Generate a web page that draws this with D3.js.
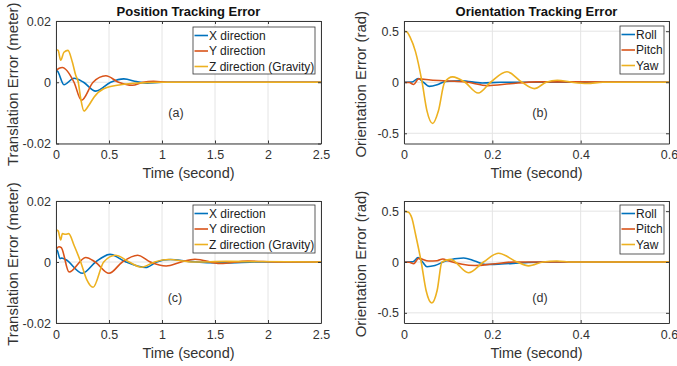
<!DOCTYPE html>
<html><head><meta charset="utf-8">
<script src="https://cdn.jsdelivr.net/npm/d3@7"></script>
<style>
html,body{margin:0;padding:0;background:#fff;}
svg text{font-family:"Liberation Sans",Arial,Helvetica,sans-serif;}
</style></head>
<body><svg id="chart" width="677" height="366"></svg>
<script>
// ---------- DATA ----------
const colors = ["#0072BD", "#D95319", "#EDB120"];
const posNames = ["X direction", "Y direction", "Z direction (Gravity)"];
const oriNames = ["Roll", "Pitch", "Yaw"];
const posTicksX = [0, 0.5, 1, 1.5, 2, 2.5];
const posTicksY = [-0.02, 0, 0.02];
const oriTicksX = [0, 0.2, 0.4, 0.6];
const oriTicksY = [-0.5, 0, 0.5];

// (a) position, first run
const aXt = [0, 0.015, 0.075, 0.17, 0.26, 0.374, 0.516, 0.64, 0.76, 0.86, 1.0, 1.2, 2.5];
const aXv = [0.0040, 0.0036, -0.0008, 0.0013, 0, -0.0029, 0, 0.0011, 0.0002, -0.0003, 0, 0, 0];
const aYt = [0, 0.03, 0.06, 0.17, 0.24, 0.35, 0.47, 0.59, 0.72, 0.82, 0.92, 1.05, 1.3, 2.5];
const aYv = [0.0038, 0.0046, 0.0048, 0, -0.0059, 0, 0.0021, 0, -0.001, 0, 0.0003, 0, 0, 0];
const aZt = [0, 0.02, 0.044, 0.075, 0.113, 0.154, 0.186, 0.21, 0.233, 0.264, 0.31, 0.36, 0.45, 0.61, 0.8, 1.0, 2.5];
const aZv = [0.0107, 0.0104, 0.0072, 0.0098, 0.0104, 0.0066, 0.0023, 0, -0.0053, -0.0094, -0.0075, -0.0048, -0.0021, -0.0008, -0.0002, 0, 0];

// (b) orientation, first run
const bRollT = [0, 0.018, 0.032, 0.044, 0.057, 0.075, 0.094, 0.13, 0.177, 0.22, 0.6];
const bRollV = [0, 0.002, 0.037, 0, -0.04, -0.025, 0.008, 0.015, -0.007, 0, 0];
const bPitchT = [0, 0.012, 0.022, 0.033, 0.06, 0.1, 0.14, 0.19, 0.24, 0.3, 0.6];
const bPitchV = [0, -0.003, -0.022, 0.033, 0.022, 0.012, 0.003, -0.033, -0.015, 0.004, 0];
const bYawT = [0, 0.006, 0.014, 0.026, 0.041, 0.052, 0.065, 0.078, 0.092, 0.11, 0.138, 0.168, 0.196, 0.233, 0.267, 0.295, 0.322, 0.347, 0.38, 0.415, 0.45, 0.6];
const bYawV = [0.5, 0.495, 0.44, 0.3, 0, -0.28, -0.404, -0.28, 0, 0.053, 0, -0.106, 0, 0.103, 0, -0.062, 0, 0.02, 0, -0.012, 0, 0];

// (c) position, second run
const cXt = [0, 0.012, 0.038, 0.05, 0.09, 0.25, 0.374, 0.51, 0.66, 0.846, 0.95, 1.08, 1.25, 1.6, 1.9, 2.5];
const cXv = [0.0041, 0.0038, 0.0011, 0.0013, 0.0008, -0.0037, 0, 0.0025, 0, -0.0018, 0, 0.0008, 0.0002, -0.0003, 0, 0];
const cYt = [0, 0.028, 0.05, 0.123, 0.28, 0.37, 0.5, 0.626, 0.77, 0.89, 1.04, 1.18, 1.31, 1.55, 1.81, 2.1, 2.5];
const cYv = [0.0041, 0.005, 0.0047, -0.0033, 0.0015, 0, -0.0037, 0, 0.0022, 0, -0.0013, 0, 0.0009, -0.0005, 0.0003, 0, 0];
const cZt = [0, 0.02, 0.044, 0.06, 0.09, 0.12, 0.17, 0.233, 0.29, 0.35, 0.45, 0.563, 0.69, 0.805, 0.93, 1.06, 1.3, 1.6, 2.5];
const cZv = [0.0106, 0.0102, 0.0072, 0.0093, 0.0091, 0.0093, 0.0055, 0, -0.0058, -0.0083, 0, 0.0022, 0, -0.0017, 0, 0.0008, 0, 0.0002, 0];

// (d) orientation, second run
const dRollT = [0, 0.02, 0.032, 0.042, 0.052, 0.07, 0.094, 0.135, 0.16, 0.185, 0.22, 0.27, 0.32, 0.6];
const dRollV = [0, 0.002, 0.043, 0, -0.046, -0.035, 0.01, 0.04, 0.01, -0.025, -0.02, -0.008, 0, 0];
const dPitchT = [0, 0.012, 0.022, 0.033, 0.056, 0.075, 0.088, 0.1, 0.16, 0.2, 0.25, 0.6];
const dPitchV = [0, -0.003, -0.017, 0.036, 0.01, 0.013, 0.03, 0.012, -0.035, -0.02, 0, 0];
const dYawT = [0, 0.01, 0.018, 0.026, 0.039, 0.05, 0.063, 0.075, 0.086, 0.105, 0.146, 0.18, 0.214, 0.256, 0.282, 0.315, 0.346, 0.38, 0.6];
const dYawV = [0.5, 0.49, 0.43, 0.275, 0, -0.28, -0.404, -0.28, 0, 0.026, -0.106, 0, 0.086, 0, -0.038, 0, 0.01, 0, 0];

// ---------- DRAW ----------
const svg = d3.select("#chart");
const zip = (t, v) => t.map((d, i) => [d, v[i]]);

const panels = [
  {id:"a", box:[56, 21, 321, 143.5], xDom:[0,2.5], yDom:[-0.02,0.02], xt:posTicksX, yt:posTicksY,
   title:"Position Tracking Error", ylabel:"Translation Error (meter)", names:posNames,
   series:[zip(aXt,aXv), zip(aYt,aYv), zip(aZt,aZv)], leg:[193, 27, 122, 47], tag:[176,117]},
  {id:"b", box:[404, 21, 669, 143.5], xDom:[0,0.6], yDom:[-0.6,0.6], xt:oriTicksX, yt:oriTicksY,
   title:"Orientation Tracking Error", ylabel:"Orientation Error (rad)", names:oriNames,
   series:[zip(bRollT,bRollV), zip(bPitchT,bPitchV), zip(bYawT,bYawV)], leg:[620, 26, 44, 48], tag:[540,117]},
  {id:"c", box:[56, 201, 321, 323], xDom:[0,2.5], yDom:[-0.02,0.02], xt:posTicksX, yt:posTicksY,
   title:null, ylabel:"Translation Error (meter)", names:posNames,
   series:[zip(cXt,cXv), zip(cYt,cYv), zip(cZt,cZv)], leg:[193, 205, 122, 48], tag:[175,302]},
  {id:"d", box:[404, 201, 669, 323], xDom:[0,0.6], yDom:[-0.6,0.6], xt:oriTicksX, yt:oriTicksY,
   title:null, ylabel:"Orientation Error (rad)", names:oriNames,
   series:[zip(dRollT,dRollV), zip(dPitchT,dPitchV), zip(dYawT,dYawV)], leg:[620, 205, 44, 49], tag:[540,302]}
];
const tags = ["(a)", "(b)", "(c)", "(d)"];
const axisCol = "#383838", txtCol = "#333", gridCol = "#e4e4e4";
const fmtTick = d => String(d);  // MATLAB-style: hyphen-minus, "0"

panels.forEach((p, pi) => {
  const [x0, y0, x1, y1] = p.box;
  const x = d3.scaleLinear().domain(p.xDom).range([x0, x1]);
  const y = d3.scaleLinear().domain(p.yDom).range([y1, y0]);
  const g = svg.append("g");

  // y label first (so tick labels sit on top)
  const ylx = x0 - 38;
  g.append("text").attr("transform", `translate(${ylx},${(y0 + y1) / 2 + 2}) rotate(-90)`)
    .attr("text-anchor", "middle").attr("font-size", 15).attr("fill", txtCol).text(p.ylabel);

  // grid
  g.selectAll(".gx").data(p.xt).join("line")
    .attr("x1", d => x(d)).attr("x2", d => x(d)).attr("y1", y0).attr("y2", y1)
    .attr("stroke", gridCol).attr("stroke-width", 1);
  g.selectAll(".gy").data(p.yt).join("line")
    .attr("x1", x0).attr("x2", x1).attr("y1", d => y(d)).attr("y2", d => y(d))
    .attr("stroke", gridCol).attr("stroke-width", 1);

  // lines
  const clipId = "clip" + p.id;
  svg.append("clipPath").attr("id", clipId).append("rect")
    .attr("x", x0).attr("y", y0).attr("width", x1 - x0).attr("height", y1 - y0);
  const line = d3.line().x(d => x(d[0])).y(d => y(d[1])).curve(d3.curveMonotoneX);
  p.series.forEach((s, i) => {
    g.append("path").datum(s).attr("d", line).attr("fill", "none")
      .attr("stroke", colors[i]).attr("stroke-width", 1.6)
      .attr("stroke-linejoin", "round").attr("clip-path", `url(#${clipId})`);
  });

  // axes (inward ticks on all four sides)
  const bottom = g.append("g").attr("transform", `translate(0,${y1})`)
    .call(d3.axisBottom(x).tickValues(p.xt).tickFormat(fmtTick).tickSizeInner(-3).tickSizeOuter(0).tickPadding(7));
  const top = g.append("g").attr("transform", `translate(0,${y0})`)
    .call(d3.axisTop(x).tickValues(p.xt).tickFormat("").tickSizeInner(-3).tickSizeOuter(0));
  const left = g.append("g").attr("transform", `translate(${x0},0)`)
    .call(d3.axisLeft(y).tickValues(p.yt).tickFormat(fmtTick).tickSizeInner(-3).tickSizeOuter(0).tickPadding(5));
  const right = g.append("g").attr("transform", `translate(${x1},0)`)
    .call(d3.axisRight(y).tickValues(p.yt).tickFormat("").tickSizeInner(-3).tickSizeOuter(0));
  [bottom, top, left, right].forEach(a => {
    a.select(".domain").attr("stroke", axisCol).attr("stroke-width", 1);
    a.selectAll(".tick line").attr("stroke", axisCol);
    a.selectAll("text").attr("fill", txtCol).attr("font-size", 12.5)
      .attr("font-family", "Liberation Sans, Arial, sans-serif");
  });
  bottom.selectAll("text").attr("dy", "0.71em");

  // title
  if (p.title) {
    g.append("text").attr("x", (x0 + x1) / 2).attr("y", y0 - 5).attr("text-anchor", "middle")
      .attr("font-size", 13).attr("font-weight", "bold").attr("fill", "#111").text(p.title);
  }
  // x label
  g.append("text").attr("x", (x0 + x1) / 2).attr("y", y1 + 34.5).attr("text-anchor", "middle")
    .attr("font-size", 14.5).attr("fill", txtCol).text("Time (second)");

  // tag
  g.append("text").attr("x", p.tag[0]).attr("y", p.tag[1]).attr("text-anchor", "middle")
    .attr("font-size", 12.5).attr("fill", txtCol).text(tags[pi]);

  // legend
  const [lx, ly, lw, lh] = p.leg;
  const lg = g.append("g");
  lg.append("rect").attr("x", lx).attr("y", ly).attr("width", lw).attr("height", lh)
    .attr("fill", "#fff").attr("stroke", "#333").attr("stroke-width", 0.8);
  p.names.forEach((n, i) => {
    const cy = ly + 8.5 + i * 15.5;
    lg.append("line").attr("x1", lx + 1.5).attr("x2", lx + 15).attr("y1", cy).attr("y2", cy)
      .attr("stroke", colors[i]).attr("stroke-width", 1.6);
    lg.append("text").attr("x", lx + 16).attr("y", cy).attr("dy", "0.35em")
      .attr("font-size", 12).attr("fill", "#222").text(n);
  });
});
</script></body></html>
